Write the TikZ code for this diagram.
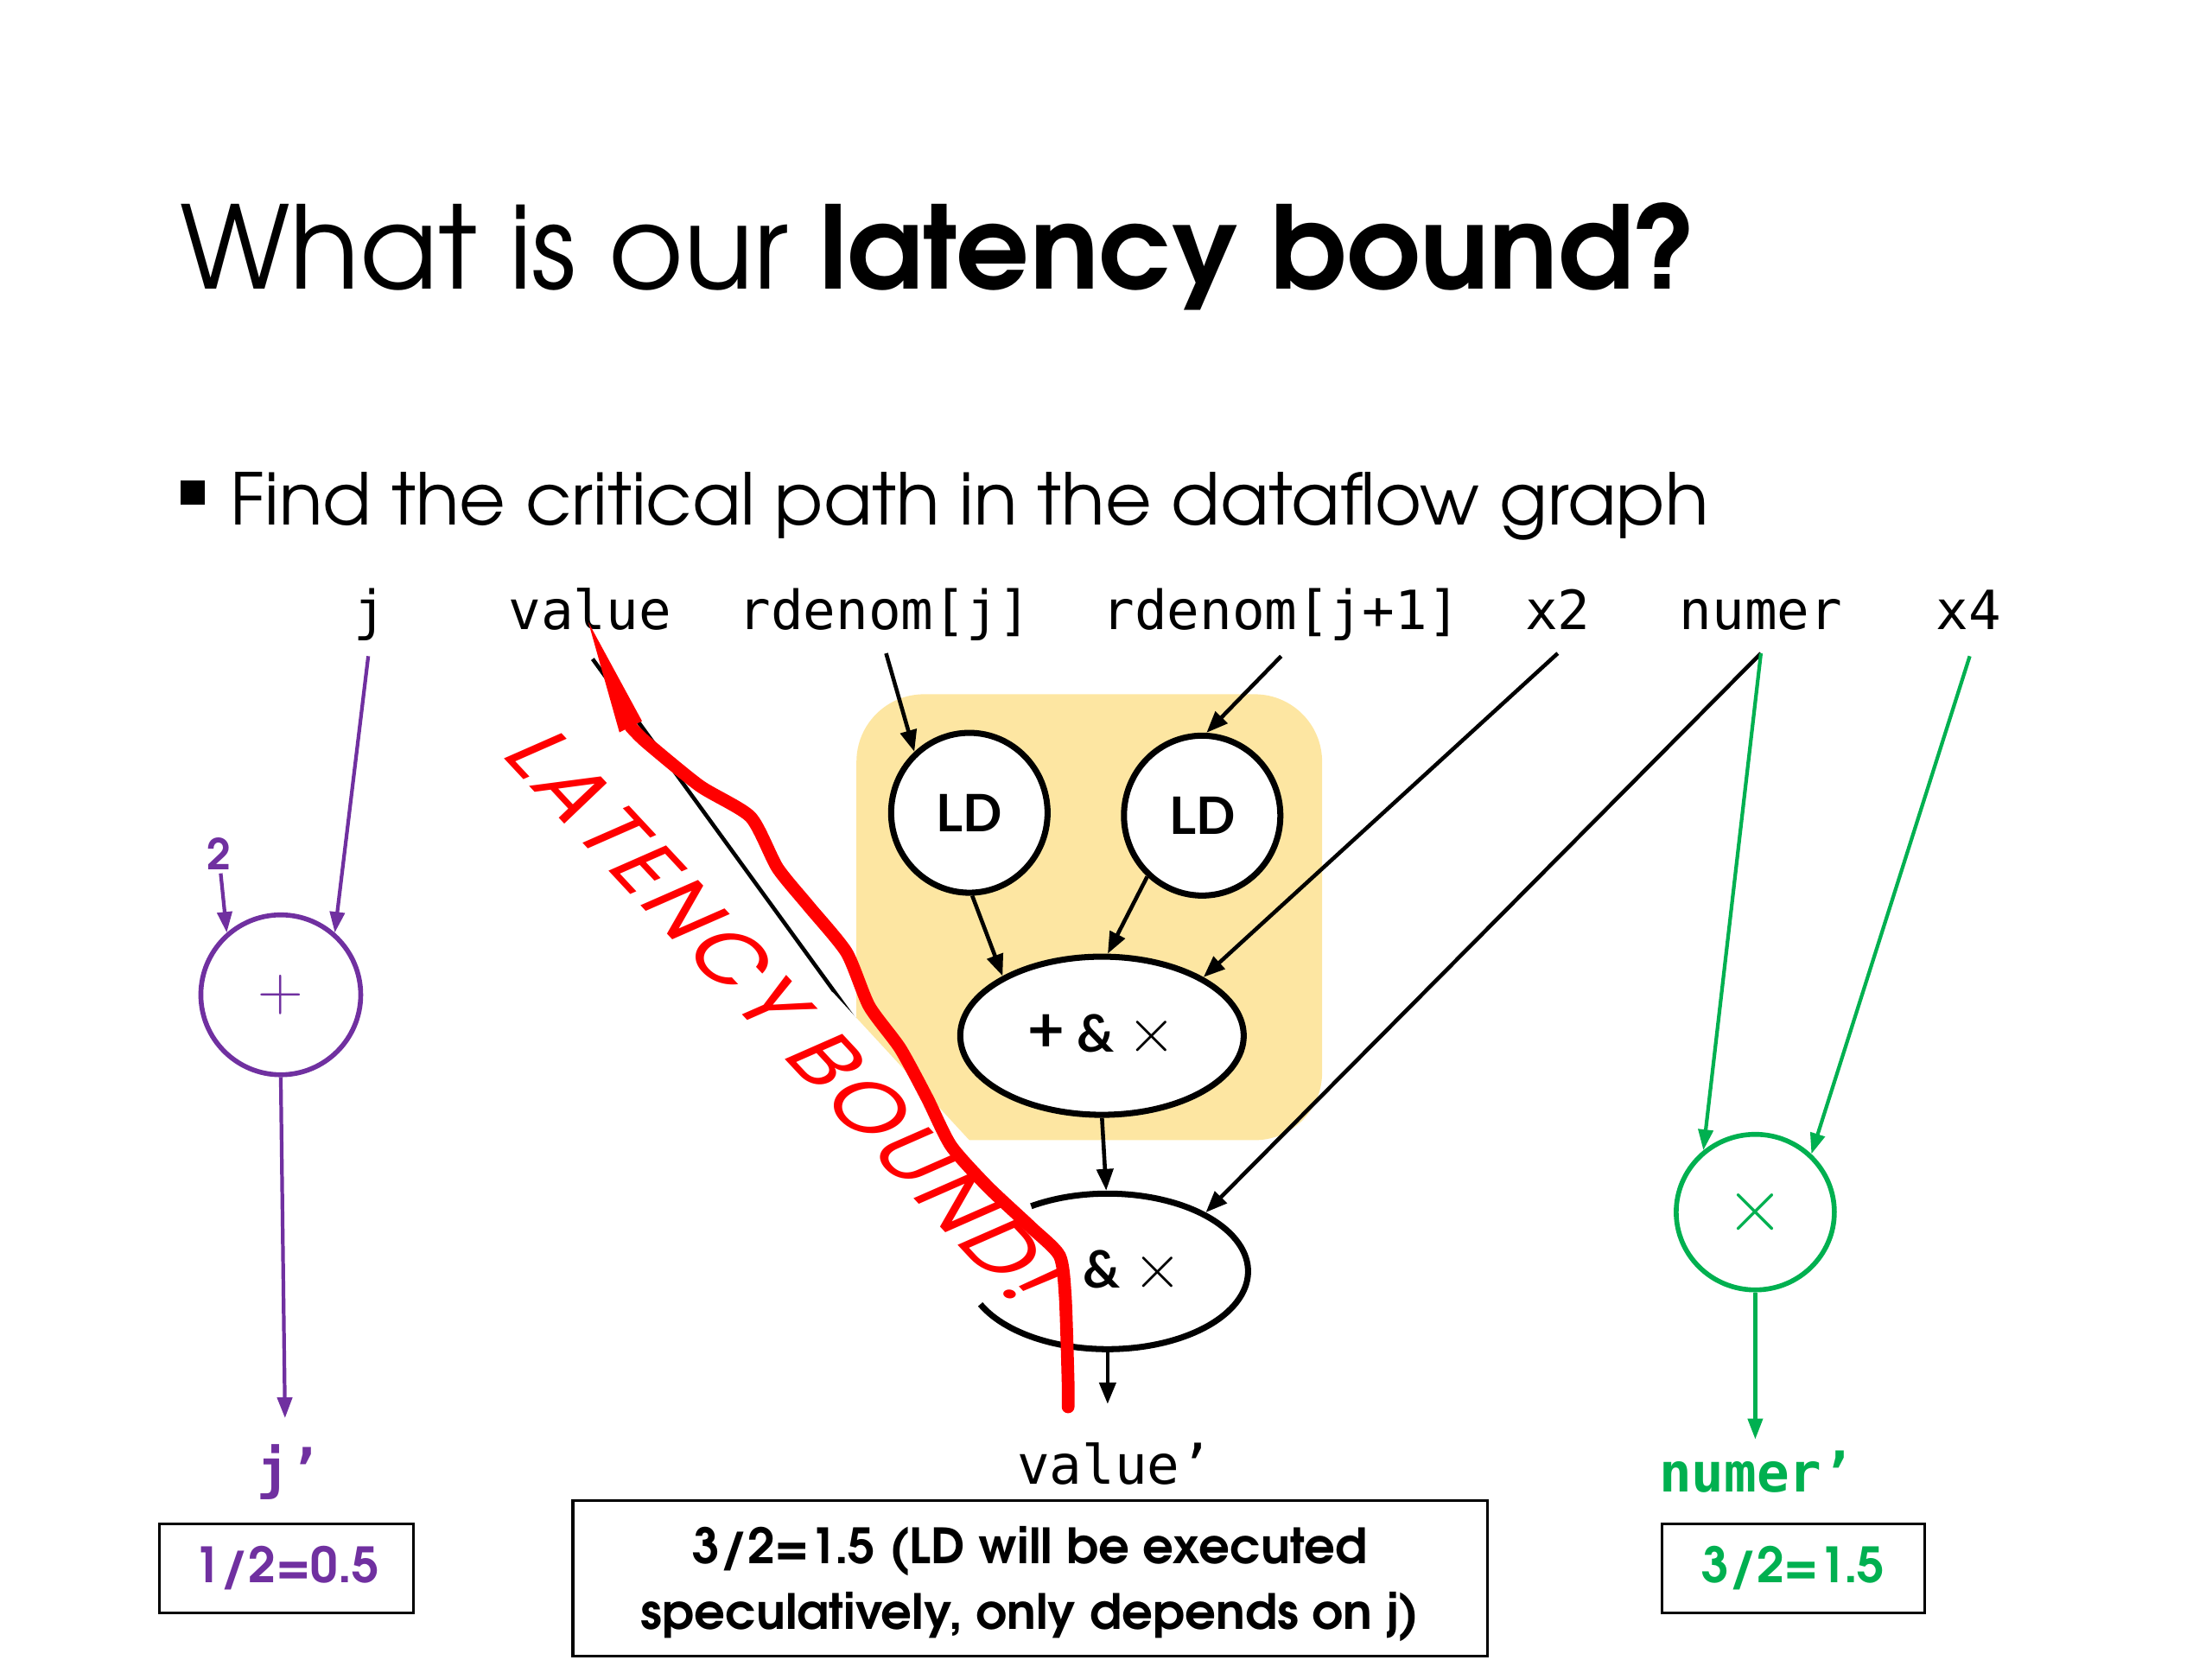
\documentclass[tikz,border=0pt]{standalone}
\usepackage{fontspec}
\usetikzlibrary{shapes.geometric,arrows.meta,calc}
\setmainfont{texgyreadventor}[Extension=.otf,UprightFont=*-regular,BoldFont=*-bold,ItalicFont=*-italic,BoldItalicFont=*-bolditalic]
\newfontfamily\monofont{DejaVu Sans Mono}
\newfontfamily\monobold{DejaVu Sans Mono Bold}
\newfontfamily\ldfont{Lato}
\newfontfamily\handfont{Poppins}[LetterSpace=5]
\definecolor{vpurple}{HTML}{7030A0}
\definecolor{vgreen}{HTML}{00B050}
\definecolor{vyellow}{HTML}{FDE6A2}
\definecolor{vred}{HTML}{FF0000}
\begin{document}
\begin{tikzpicture}[x=0.01633cm,y=-0.01633cm,
  lab/.style={font=\monofont\fontsize{17.8}{20}\selectfont, anchor=base, inner sep=0pt},
  arr/.style={-{Triangle[length=0.25cm,width=0.19cm]}, line width=1.3pt, draw=black},
  parr/.style={-{Triangle[length=0.24cm,width=0.17cm]}, line width=1.2pt, draw=vpurple},
  garr/.style={-{Triangle[length=0.24cm,width=0.17cm]}, line width=1.2pt, draw=vgreen},
  opnode/.style={ellipse, draw, line width=2pt, fill=white, inner sep=0pt,
    font=\ldfont\bfseries\fontsize{17}{17}\selectfont},
  ldnode/.style={opnode, minimum width=1.81cm, minimum height=1.85cm},
  resbox/.style={draw, line width=0.9pt, inner sep=0pt, font=\bfseries\fontsize{16}{21.4}\selectfont},
]
\useasboundingbox (0,0) rectangle (1567.7,1175.8);

% title and bullet
\node[anchor=base west, inner sep=0pt, font=\fontsize{37.8}{45}\selectfont] (title) at (127,205) {What is our \textbf{latency bound?}};
\node[fill=black, minimum size=0.278cm, inner sep=0pt] (bul) at (136.5,349) {};
\node[anchor=base west, inner sep=0pt, font=\fontsize{23.5}{28}\selectfont] (sub) at (163,372) {Find the critical path in the dataflow graph};

% yellow region
\fill[vyellow, rounded corners=0.78cm] (607,492) rectangle (937,808);

% input labels
\node[lab] (j) at (262,446) {j};
\node[lab] (val) at (418,446) {value};
\node[lab] (rdj) at (627,446) {rdenom[j]};
\node[lab] (rdk) at (908,446) {rdenom[j+1]};
\node[lab] (xtwo) at (1104,446) {x2};
\node[lab] (numer) at (1248,446) {numer};
\node[lab] (xfour) at (1395,446) {x4};

% output labels
\node[lab, text=vpurple, font=\monobold\fontsize{17.8}{20}\selectfont] (jp) at (205,1055) {j’};
\node[lab] (valp) at (790,1052) {value’};
\node[lab, text=vgreen, font=\monobold\fontsize{17.8}{20}\selectfont] (nump) at (1245,1057) {numer’};

% nodes
\node[ldnode] (ldA) at (687,576) {LD};
\node[ldnode] (ldB) at (852,578) {LD};
\node[opnode, minimum width=3.28cm, minimum height=1.83cm] (pm) at (781,734) {{\fontsize{21}{21}\selectfont+} \& {\mdseries\fontsize{22}{22}\selectfont$\times$}};
\node[opnode, draw=none, minimum width=3.25cm, minimum height=1.80cm] (mul) at (785,901) {\phantom{{\fontsize{21}{21}\selectfont+} }\& {\mdseries\fontsize{22}{22}\selectfont$\times$}};

\node[circle, draw=vpurple, line width=1.6pt, minimum size=1.85cm, inner sep=0pt, text=vpurple, font=\fontsize{20}{20}\selectfont] (plus) at (199,705) {$+$};
\node[text=vpurple, inner sep=1pt, font=\bfseries\fontsize{14}{14}\selectfont] (two) at (155,605) {2};
\node[ellipse, draw=vgreen, line width=1.6pt, minimum width=1.83cm, minimum height=1.80cm, inner sep=0pt, text=vgreen, font=\fontsize{23}{23}\selectfont] (times) at (1244,859) {$\times$};

% value -> final op (mostly hidden)
\draw[arr] ($(val.base)+(2,21)$) -- (mul.154);

% black connectors
\draw[arr] ($(rdj.base)+(1,17)$) -- (ldA.132);
\draw[arr] ($(rdk.base)+(0,19)$) -- (ldB.87);
\draw[arr] (ldA.-88) -- (pm.149);
\draw[arr] (ldB.228) -- (pm.86);
\draw[arr] ($(xtwo.base)+(0,17)$) -- (pm.30);
\draw[arr] (pm.south) -- (mul.91);
\draw[arr] ($(numer.base)+(0,17)$) -- (mul.31);
\coordinate (valin) at ($(valp.base)+(-5,-57)$);
\draw[arr] (mul.south) -- (valin);

% purple
\draw[parr] ($(j.base)+(-1,19)$) -- (plus.49);
\draw[parr] (two) -- (plus.131);
\coordinate (jin) at ($(jp.base)+(-3,-50)$);
\draw[parr] (plus.south) -- (jin);

% green
\draw[garr] ($(numer.base)+(0,17)$) -- (times.130);
\draw[garr] ($(xfour.base)+(1,19)$) -- (times.46);
\coordinate (numin) at ($(nump.base)+(-1,-37)$);
\draw[garr] (times.south) -- (numin);

% result boxes
\node[resbox, text=vpurple, minimum width=2.94cm, minimum height=1.03cm] (bA) at (203,1111.5) {1/2=0.5};
\node[resbox, align=center, minimum width=10.58cm, minimum height=1.80cm] (bB) at (730,1118.5) {\raisebox{-1.9pt}[\height][\depth]{3/2=1.5 (LD will be executed}\\\raisebox{-1.9pt}[\height][\depth]{speculatively, only depends on j)}};
\node[resbox, text=vgreen, minimum width=3.04cm, minimum height=1.03cm] (bC) at (1271,1111.5) {3/2=1.5};

% red annotation: white backing of the text box, the text, the partly hidden outline, the stroke
\fill[white] (590,703) -- (745,871) -- (700,945) -- (560,800) -- cycle;
\node[rotate=-47, xslant=0.35, inner sep=0pt, anchor=center, text=vred,
  font=\handfont\fontsize{28}{28}\selectfont] (lbound) at (557,721) {LATENCY BOUND!};
\draw[line width=2pt] ($(mul.center)+(123:1.625cm and 0.9cm)$) arc[start angle=123, end angle=-155, x radius=1.625cm, y radius=0.9cm];
\fill[vred] (417,441) -- (455,511) -- (439,519) -- cycle;
\draw[vred, line width=4.2pt, line join=round, line cap=round] plot[smooth, tension=0.4] coordinates {(447,515) (458,526) (496,557) (532,579) (551,615) (573,642) (600,675) (616,713) (638,743) (657,778) (674,812) (700,841) (731,870) (751,890) (755,919) (757,980) (757,997)};
\end{tikzpicture}
\end{document}
